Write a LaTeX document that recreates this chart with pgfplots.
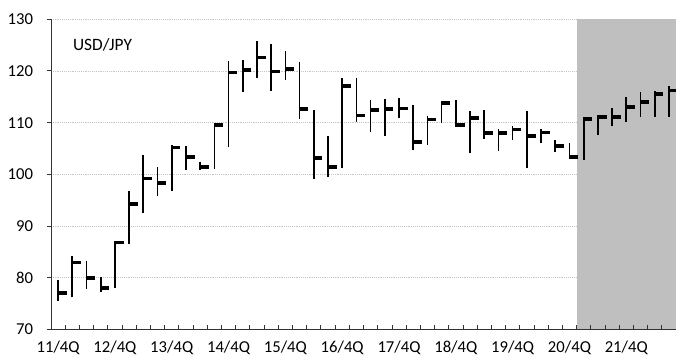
\documentclass[border=0pt]{standalone}
\usepackage{pgfplots}
\usepackage{pgfplotstable}
\pgfplotsset{compat=1.18}
\usepackage{fontspec}
\setmainfont{Carlito}
\definecolor{shade}{RGB}{191,191,191}
\pgfdeclareplotmark{closetick}{\pgfpathrectangle{\pgfpoint{-0.4pt}{-1.4pt}}{\pgfpoint{6.9pt}{2.8pt}}\pgfusepathqfill}
\pgfplotstableread{
i high low close
0 79.55 75.5 77.05
1 84.2 76.2 82.95
2 83.3 77.8 79.9
3 80.2 77.3 78.0
4 87.1 78.0 86.8
5 96.7 86.6 94.2
6 103.7 92.6 99.2
7 101.4 95.8 98.3
8 105.6 96.7 105.2
9 105.4 100.8 103.3
10 102.3 100.8 101.4
11 109.8 101.0 109.6
12 121.9 105.2 119.7
13 122.1 116.0 120.2
14 125.8 118.6 122.6
15 125.3 116.2 119.9
16 123.8 118.2 120.4
17 121.7 110.7 112.7
18 112.5 99.0 103.2
19 107.4 99.5 101.4
20 118.6 101.2 117.1
21 118.6 110.2 111.4
22 114.4 108.2 112.4
23 114.5 107.4 112.6
24 114.8 110.9 112.75
25 113.4 104.7 106.3
26 111.3 105.7 110.6
27 113.9 110.0 113.8
28 114.4 109.3 109.5
29 112.2 104.1 110.9
30 112.4 106.9 108.0
31 108.7 104.5 108.0
32 109.3 106.6 108.7
33 112.2 101.2 107.4
34 108.7 106.1 108.1
35 106.7 104.4 105.5
36 106.0 102.9 103.3
37 111.0 102.8 110.7
38 111.4 107.6 111.1
39 112.9 109.3 111.1
40 115.0 110.1 113.1
41 115.9 111.1 114.0
42 116.1 111.1 115.5
43 117.0 111.1 116.2
}\data
\begin{document}
\begin{tikzpicture}
\begin{axis}[
  scale only axis, width=468.75pt, height=232.5pt,
  xmin=-0.5, xmax=43.5, ymin=70, ymax=130,
  axis x line*=bottom, axis y line*=left,
  axis line style={black!80, line width=0.75pt},
  tick align=outside,
  ytick={70,80,...,130},
  major tick length=3pt,
  ytick style={black!80, line width=0.75pt},
  xtick={0,4,...,40},
  xticklabels={11/4Q,12/4Q,13/4Q,14/4Q,15/4Q,16/4Q,17/4Q,18/4Q,19/4Q,20/4Q,21/4Q},
  major x tick style={draw=none},
  ymajorgrids,
  major grid style={gray!45, densely dotted, line width=0.6pt},
  tick label style={font=\fontsize{12.5}{14}\selectfont},
  xticklabel style={yshift=-2pt},
  /pgf/number format/assume math mode=true,
  yticklabel style={xshift=-7pt},
  clip=true,
]
\addplot[fill=shade, draw=none, forget plot] coordinates {(36.5,70) (43.5,70) (43.5,130) (36.5,130)};
% category boundary tick marks on the x axis (pointing up)
\addplot[draw=none, mark=none, forget plot, samples at={-0.5,0.5,...,43.5},
  error bars/.cd, y dir=plus, y explicit, error mark=none,
  error bar style={draw=black!80, solid, line width=0.6pt}]
  table[x=b, y=y0, y error=e] {
b y0 e
-0.5 70 0.75
0.5 70 0.75
1.5 70 0.75
2.5 70 0.75
3.5 70 0.75
4.5 70 0.75
5.5 70 0.75
6.5 70 0.75
7.5 70 0.75
8.5 70 0.75
9.5 70 0.75
10.5 70 0.75
11.5 70 0.75
12.5 70 0.75
13.5 70 0.75
14.5 70 0.75
15.5 70 0.75
16.5 70 0.75
17.5 70 0.75
18.5 70 0.75
19.5 70 0.75
20.5 70 0.75
21.5 70 0.75
22.5 70 0.75
23.5 70 0.75
24.5 70 0.75
25.5 70 0.75
26.5 70 0.75
27.5 70 0.75
28.5 70 0.75
29.5 70 0.75
30.5 70 0.75
31.5 70 0.75
32.5 70 0.75
33.5 70 0.75
34.5 70 0.75
35.5 70 0.75
36.5 70 0.75
37.5 70 0.75
38.5 70 0.75
39.5 70 0.75
40.5 70 0.75
41.5 70 0.75
42.5 70 0.75
43.5 70 0.75
};
\addplot[draw=none, mark=none, forget plot,
  error bars/.cd, y dir=plus, y explicit, error mark=none,
  error bar style={draw=black, solid, line width=1.25pt}]
  table[x=i, y=low, y error expr=\thisrow{high}-\thisrow{low}] {\data};
\addplot[only marks, mark=closetick, black, forget plot] table[x=i, y=close] {\data};
\node[anchor=west, font=\fontsize{13}{15}\selectfont] at (axis cs:0.72,125) {USD/JPY};
\end{axis}
\pgfresetboundingbox
\path ([xshift=-38.25pt,yshift=-22.9pt]current axis.south west) rectangle ([yshift=14.5pt]current axis.north east);
\end{tikzpicture}
\end{document}
